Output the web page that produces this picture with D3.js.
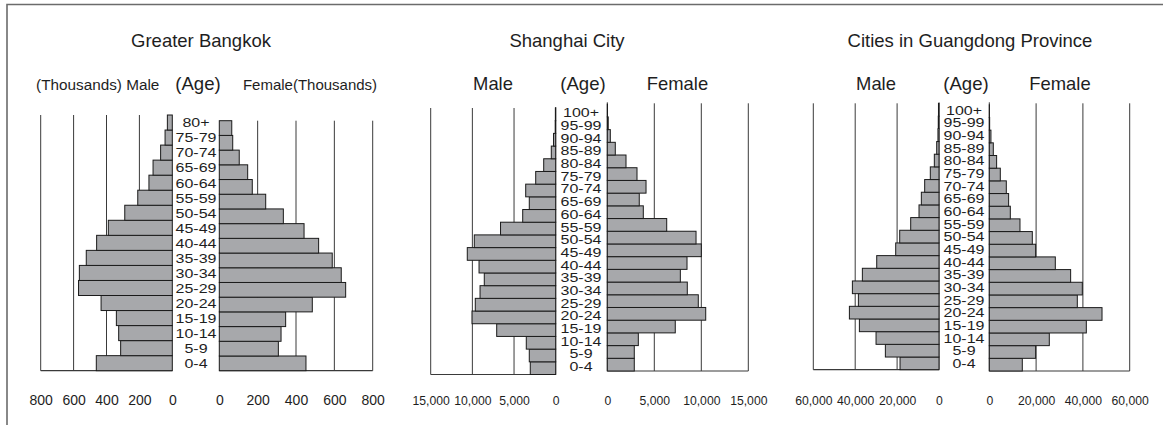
<!DOCTYPE html>
<html>
<head>
<meta charset="utf-8">
<script src="https://cdn.jsdelivr.net/npm/d3@7"></script>
<style>
  html, body { margin: 0; padding: 0; background: #fff; }
  svg { display: block; font-family: "Liberation Sans", Arial, Helvetica, sans-serif; }
</style>
</head>
<body>
<svg id="chart" width="1163" height="425"></svg>
<script>
// ---------------- DATA ----------------
const agesBangkok = ["0-4","5-9","10-14","15-19","20-24","25-29","30-34","35-39","40-44","45-49","50-54","55-59","60-64","65-69","70-74","75-79","80+"];
const bangkokMale   = [462, 314, 326, 340, 433, 570, 565, 523, 460, 389, 289, 210, 142, 117, 71, 44, 30];
const bangkokFemale = [452, 308, 322, 346, 485, 659, 636, 589, 518, 442, 334, 242, 172, 148, 104, 70, 65];
const bangkokTicks = [0, 200, 400, 600, 800];

const agesChina = ["0-4","5-9","10-14","15-19","20-24","25-29","30-34","35-39","40-44","45-49","50-54","55-59","60-64","65-69","70-74","75-79","80-84","85-89","90-94","95-99","100+"];
const shanghaiMale   = [3050, 3170, 3530, 7080, 10040, 9650, 9080, 8570, 9200, 10610, 9770, 6620, 3960, 3170, 3600, 2400, 1440, 530, 260, 60, 40];
const shanghaiFemale = [2870, 2870, 3300, 7230, 10470, 9680, 8510, 7770, 8480, 10000, 9440, 6320, 3830, 3400, 4120, 3160, 1990, 850, 320, 100, 20];
const shanghaiTicks = [0, 5000, 10000, 15000];

const guangdongMale   = [18600, 25600, 30050, 38000, 42770, 38480, 41340, 36580, 29730, 20670, 18760, 13510, 9540, 8430, 6840, 4150, 2230, 1100, 500, 350, 250];
const guangdongFemale = [14100, 19800, 25640, 41460, 48170, 37610, 39750, 34760, 28210, 19800, 18380, 13110, 8980, 8260, 7270, 4700, 3130, 1710, 700, 150, 50];
const guangdongTicks = [0, 20000, 40000, 60000];

const titles = ["Greater Bangkok", "Shanghai City", "Cities in Guangdong Province"];

// ---------------- LAYOUT ----------------
const svg = d3.select("#chart");
const FILL = "#a7a8ab", STROKE = "#1a1a1a", GRID = "#3a3a3a", INK = "#1e1e1e";

// outer frame (left & top edges)
svg.append("path").attr("d", "M7,425 V4.5 H1163")
  .attr("fill", "none").attr("stroke", "#6b6b6b").attr("stroke-width", 1.6);

const panels = [
  {
    title: titles[0], titleX: 201,
    ages: agesBangkok, male: bangkokMale, female: bangkokFemale, ticks: bangkokTicks,
    fmt: d3.format("d"), tickSize: 14, labelSize: 16, labelSy: 0.84,
    m: {x0: 172.3, xm: 40.7, top: 115, bottom: 370.7, gridTop: 115},
    f: {x0: 219.3, xm: 372.7, top: 120.7, bottom: 370.7, gridTop: 120.7},
    labelX: 196, labelTop: 115, labelBottom: 370.7, zeroLines: false,
    headers: [
      {t: "(Thousands) Male", x: 97.7, size: 15.3},
      {t: "(Age)", x: 198, size: 18.6},
      {t: "Female(Thousands)", x: 310, size: 15}
    ]
  },
  {
    title: titles[1], titleX: 567,
    ages: agesChina, male: shanghaiMale, female: shanghaiFemale, ticks: shanghaiTicks,
    fmt: d3.format(","), tickSize: 12.2, labelSize: 16, labelSy: 0.78,
    m: {x0: 555.7, xm: 430.7, top: 108, bottom: 374.5, gridTop: 108},
    f: {x0: 607.3, xm: 748.3, top: 104.2, bottom: 371, gridTop: 103.3},
    labelX: 581, labelTop: 106.5, labelBottom: 373, zeroLines: true,
    headers: [
      {t: "Male", x: 493, size: 18.4},
      {t: "(Age)", x: 583, size: 18.6},
      {t: "Female", x: 677.5, size: 18.4}
    ]
  },
  {
    title: titles[2], titleX: 970,
    ages: agesChina, male: guangdongMale, female: guangdongFemale, ticks: guangdongTicks,
    fmt: d3.format(","), tickSize: 12.2, labelSize: 16, labelSy: 0.78,
    m: {x0: 939, xm: 813.3, top: 103.5, bottom: 369.7, gridTop: 103.3},
    f: {x0: 989.3, xm: 1129.7, top: 104.8, bottom: 371, gridTop: 103.3},
    labelX: 964, labelTop: 103.7, labelBottom: 369.7, zeroLines: true,
    headers: [
      {t: "Male", x: 876, size: 18.4},
      {t: "(Age)", x: 966, size: 18.6},
      {t: "Female", x: 1060, size: 18.4}
    ]
  }
];

panels.forEach(p => {
  const g = svg.append("g");
  const maxV = d3.max(p.ticks);
  const agesTopDown = p.ages.slice().reverse();

  // title
  g.append("text").attr("x", p.titleX).attr("y", 46.5)
    .attr("text-anchor", "middle").attr("font-size", 18.5).attr("fill", INK)
    .text(p.title);

  // headers
  p.headers.forEach(h => {
    g.append("text").attr("x", h.x).attr("y", 89.5)
      .attr("text-anchor", "middle").attr("font-size", h.size).attr("fill", INK)
      .text(h.t);
  });

  [["m", p.male], ["f", p.female]].forEach(([side, vals]) => {
    const s = p[side];
    const x = d3.scaleLinear().domain([0, maxV]).range([s.x0, s.xm]);
    const y = d3.scaleBand().domain(agesTopDown).range([s.top, s.bottom]).padding(0);

    // grid lines
    g.selectAll(null).data(p.ticks.filter(t => t > 0)).enter().append("line")
      .attr("x1", d => x(d)).attr("x2", d => x(d))
      .attr("y1", s.gridTop).attr("y2", s.bottom)
      .attr("stroke", GRID).attr("stroke-width", 1);

    // baseline
    g.append("line").attr("x1", x(0)).attr("x2", x(maxV))
      .attr("y1", s.bottom).attr("y2", s.bottom)
      .attr("stroke", GRID).attr("stroke-width", 1.2);

    if (p.zeroLines) {
      g.append("line").attr("x1", x(0)).attr("x2", x(0))
        .attr("y1", s.gridTop - 1).attr("y2", s.bottom)
        .attr("stroke", GRID).attr("stroke-width", 1);
    }

    // bars
    g.selectAll(null).data(p.ages.map((a, i) => ({age: a, v: vals[i]}))).enter().append("rect")
      .attr("x", d => Math.min(x(0), x(d.v)))
      .attr("width", d => Math.abs(x(d.v) - x(0)))
      .attr("y", d => y(d.age))
      .attr("height", y.bandwidth())
      .attr("fill", FILL).attr("stroke", STROKE).attr("stroke-width", 1);

    // tick labels via axis
    const axis = d3.axisBottom(x).tickValues(p.ticks).tickFormat(p.fmt).tickSize(0);
    const ag = g.append("g").attr("transform", "translate(0,405)").call(axis);
    ag.select(".domain").remove();
    ag.selectAll("text").attr("y", 0).attr("dy", 0)
      .attr("font-size", p.tickSize)
      .attr("font-family", "'Liberation Sans', Arial, sans-serif")
      .attr("fill", INK);
  });

  // age labels (slightly compressed vertically, as in the original)
  const yl = d3.scaleBand().domain(agesTopDown).range([p.labelTop, p.labelBottom]);
  g.selectAll(null).data(p.ages).enter().append("text")
    .attr("transform", d => `translate(${p.labelX},${yl(d) + yl.bandwidth() / 2}) scale(1,${p.labelSy})`)
    .attr("dy", "0.36em")
    .attr("text-anchor", "middle")
    .attr("font-size", p.labelSize)
    .attr("fill", INK)
    .text(d => d);
});
</script>
</body>
</html>
